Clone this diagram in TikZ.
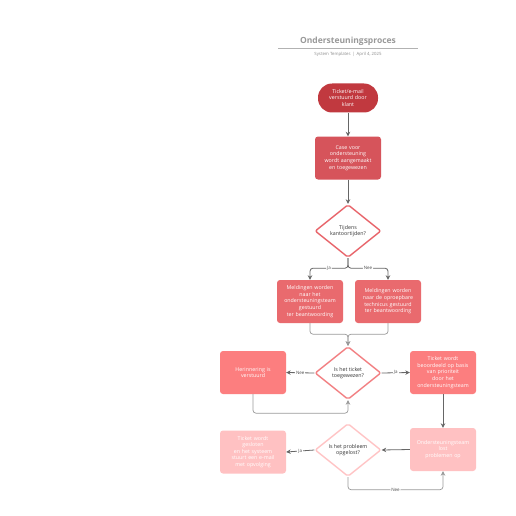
\documentclass[tikz,border=0pt]{standalone}
\usepackage{fontspec}
\setmainfont{Open Sans}
\usetikzlibrary{shapes.geometric,arrows.meta}
\definecolor{cA}{HTML}{C1393F}
\definecolor{cB}{HTML}{D6545B}
\definecolor{cC}{HTML}{E96A6E}
\definecolor{cD}{HTML}{FC7E7F}
\definecolor{cE}{HTML}{FFC1C2}
\definecolor{dA}{HTML}{E8646A}
\definecolor{dB}{HTML}{F27F82}
\definecolor{dC}{HTML}{FFC4C5}
\definecolor{lnA}{HTML}{666666}
\definecolor{lnB}{HTML}{9A9A9A}
\tikzset{
  box/.style={draw=none, rounded corners=3pt, minimum width=66pt, minimum height=43pt,
    text width=63pt, align=center, text=white, font=\fontsize{5.3}{6.6}\selectfont, inner sep=1pt},
  term/.style={box, rounded corners=14pt, minimum width=60pt, minimum height=29pt, text width=57pt},
  dia/.style={diamond, draw, fill=white, line width=1.4pt, rounded corners=2pt,
    minimum width=66pt, minimum height=53pt, inner sep=0pt, align=center,
    text=black!80, font=\fontsize{5.3}{6.6}\selectfont},
  arr/.style={draw=lnA, line width=0.8pt, -{Stealth[length=4.5pt,width=4.5pt]}},
  arrl/.style={draw=lnB, line width=0.7pt, rounded corners=3pt, -{Stealth[length=4.5pt,width=4.5pt,fill=lnA]}},
  lbl/.style={fill=white, inner sep=1pt, text=black!70, font=\fontsize{4.5}{4.5}\selectfont},
}
\begin{document}
\begin{tikzpicture}[x=1pt,y=-1pt]
\useasboundingbox[fill=white] (0,0) rectangle (516,516);
% title
\node[font=\fontsize{8.5}{10}\bfseries\selectfont, text=black!40] (title) at (348,41) {Ondersteuningsproces};
\coordinate (tl) at (278,48);
\coordinate (tr) at (418,48);
\draw[black!30, line width=0.6pt] (tl) -- (tr);
\node[font=\fontsize{4.3}{5}\selectfont, text=black!45] (sub) at (348,54) {System Templates \,|\, April 4, 2025};
% nodes
\node[term, fill=cA] (n1) at (348,98) {Ticket/e-mail\\verstuurd door\\klant};
\node[box, fill=cB] (n2) at (348,158) {Case voor\\ondersteuning\\wordt aangemaakt\\en toegewezen};
\node[dia, draw=dA] (d1) at (348,231) {Tijdens\\kantoortijden?};
\node[box, fill=cC] (n3) at (310,301.5) {Meldingen worden\\naar het\\ondersteuningsteam\\gestuurd\\ter beantwoording};
\node[box, fill=cC] (n4) at (388,301.5) {Meldingen worden\\naar de oproepbare\\technicus gestuurd\\ter beantwoording};
\node[dia, draw=dB] (d2) at (348,373) {Is het ticket\\toegewezen?};
\node[box, fill=cD] (n5) at (253,372.5) {Herinnering is\\verstuurd};
\node[box, fill=cD] (n6) at (443,372.5) {Ticket wordt\\beoordeeld op basis\\van prioriteit\\door het\\ondersteuningsteam};
\node[box, fill=cE] (n7) at (443,449.5) {Ondersteuningsteam\\lost\\problemen op};
\node[dia, draw=dC] (d3) at (348,450) {Is het probleem\\opgelost?};
\node[box, fill=cE] (n8) at (253,452) {Ticket wordt\\gesloten\\en het systeem\\stuurt een e-mail\\met opvolging};
% connectors
\draw[arr] (n1) -- (n2);
\draw[arr] (n2) -- (d1);
\draw[arr, rounded corners=3pt] (d1.south) -- ++(0,10) -| node[lbl, pos=0.25] {Ja} (n3.north);
\draw[arr, rounded corners=3pt] (d1.south) -- ++(0,10) -| node[lbl, pos=0.25] {Nee} (n4.north);
\draw[arrl] (n3.south) -- ++(0,11) -| (d2.north);
\draw[arrl] (n4.south) -- ++(0,11) -| (d2.north);
\draw[arr] (d2.west) -- node[lbl] {Nee} (n5.east);
\draw[arr] (d2.east) -- node[lbl] {Ja} (n6.west);
\draw[arrl] (n5.south) -- ++(0,19) -| (d2.south);
\draw[arr] (n6) -- (n7);
\draw[arr] (n7.west) -- (d3.east);
\draw[arr] (d3.west) -- node[lbl] {Ja} (n8.east);
\draw[arrl] (d3.south) -- ++(0,12.5) -| node[lbl, pos=0.25] {Nee} (n7.south);
\end{tikzpicture}
\end{document}
